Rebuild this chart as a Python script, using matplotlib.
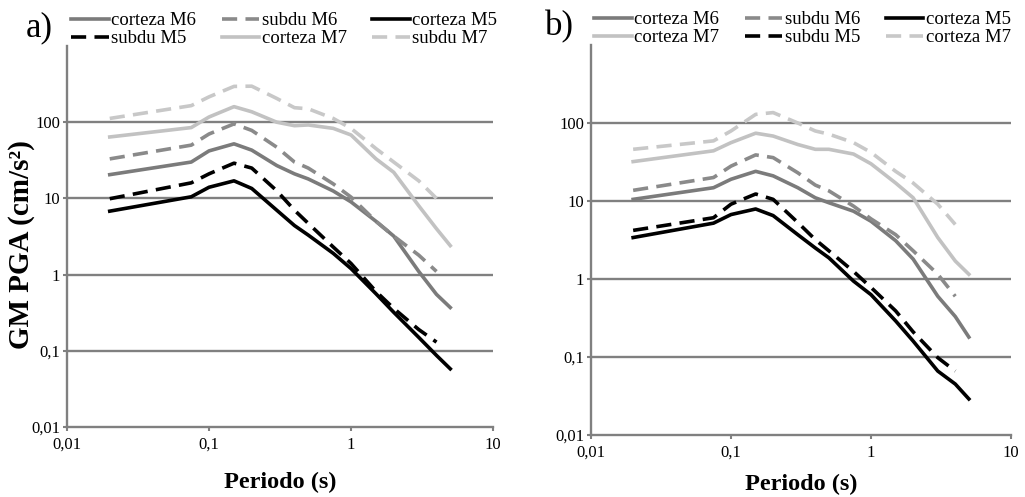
import matplotlib
matplotlib.use('Agg')
import matplotlib.pyplot as plt
import numpy as np
from matplotlib.ticker import FixedLocator, NullLocator

# Periodos (s)
per_cort = [0.02, 0.075, 0.1, 0.15, 0.2, 0.3, 0.4, 0.5, 0.75, 1.0, 1.5, 2.0, 3.0, 4.0, 5.0]
per_subdu = [0.02, 0.075, 0.1, 0.15, 0.2, 0.3, 0.4, 0.5, 0.75, 1.0, 1.5, 2.0, 3.0, 4.0]

# Panel a)
a_cort_m6 = [20.5, 30, 42, 52, 43, 27, 21, 18, 12.5, 9, 5, 3.2, 1.1, 0.55, 0.37]
a_subdu_m6 = [33, 50, 70, 95, 78, 47, 30, 25, 15.5, 10.4, 5, 3.2, 1.8, 1.1]
a_cort_m5 = [6.8, 10.5, 14, 17, 13.5, 7, 4.4, 3.3, 1.9, 1.2, 0.56, 0.32, 0.15, 0.087, 0.058]
a_subdu_m5 = [9.9, 16, 21, 29, 25, 12.6, 7, 4.7, 2.3, 1.4, 0.6, 0.36, 0.19, 0.13]
a_cort_m7 = [64, 85, 117, 160, 137, 100, 90, 92, 83, 68, 33, 22, 8, 4, 2.4]
a_subdu_m7 = [112, 165, 215, 295, 297, 205, 155, 150, 112, 83, 45, 30, 17, 10]

# Panel b)
b_cort_m6 = [10.5, 14.8, 19, 24, 21, 14.8, 11, 9.5, 7.4, 5.5, 3.1, 1.8, 0.6, 0.33, 0.18]
b_subdu_m6 = [13.7, 20, 28, 39, 36, 23, 16, 13.5, 8.6, 5.9, 3.7, 2.3, 1.15, 0.6]
b_cort_m5 = [3.4, 5.2, 6.7, 7.9, 6.5, 3.7, 2.5, 1.87, 0.94, 0.63, 0.29, 0.16, 0.066, 0.045, 0.029]
b_subdu_m5 = [4.2, 6.1, 9.1, 12.3, 10.5, 5.3, 3.2, 2.3, 1.25, 0.78, 0.39, 0.21, 0.098, 0.066]
b_cort_m7 = [32, 44, 56, 74, 68, 53, 46, 46, 40, 30, 17, 11, 3.4, 1.7, 1.15]
b_subdu_m7 = [46, 59, 79, 129, 136, 100, 79, 72, 56, 42, 24, 17, 9.1, 5.0]

ticks = [0.01, 0.1, 1, 10, 100]
xticks = [0.01, 0.1, 1, 10]
tick_labels = {0.01: '0,01', 0.1: '0,1', 1: '1', 10: '10', 100: '100'}

plt.rcParams['font.family'] = ['Liberation Serif', 'DejaVu Serif']

grid_c = '#808080'
mid = '#7b7b7b'
mid_d = '#8a8a8a'
light = '#c2c2c2'
light_d = '#c8c8c8'
lw = 2.6
dash = (0, (4.2, 2.3))

fig = plt.figure(figsize=(10.25, 4.97), dpi=100)
ax_a = fig.add_axes([67 / 1025, 1 - 427 / 497, 426 / 1025, 381 / 497])
ax_b = fig.add_axes([591 / 1025, 1 - 435 / 497, 420 / 1025, 390 / 497])


def style_axes(ax):
    ax.set_xscale('log')
    ax.set_yscale('log')
    ax.set_xlim(0.01, 10)
    ax.set_ylim(0.01, 1000)
    ax.xaxis.set_major_locator(FixedLocator(xticks))
    ax.yaxis.set_major_locator(FixedLocator(ticks))
    ax.xaxis.set_minor_locator(NullLocator())
    ax.yaxis.set_minor_locator(NullLocator())
    ax.set_xticklabels([tick_labels[t] for t in xticks], fontsize=12)
    ax.set_yticklabels([tick_labels[t] for t in ticks], fontsize=12)
    for t in ticks[1:]:
        ax.axhline(t, color=grid_c, lw=1.7, zorder=1)
    for s in ['top', 'right']:
        ax.spines[s].set_visible(False)
    for s in ['left', 'bottom']:
        ax.spines[s].set_color(grid_c)
        ax.spines[s].set_linewidth(1.7)
    ax.tick_params(direction='out', length=3, width=1.5, color=grid_c, pad=2)
    ax.tick_params(axis='x', pad=4)
    ax.set_xlabel('Periodo (s)', fontsize=17.5, fontweight='bold')
    ax.xaxis.label.set_va('center')
    ax.patch.set_alpha(0)


def draw(ax, c6, s6, c5, s5, c7, s7, lab_s7):
    h = {}
    h['cM6'], = ax.plot(per_cort, c6, color=mid, lw=lw, label='corteza M6', zorder=3)
    h['sM6'], = ax.plot(per_subdu, s6, color=mid_d, lw=lw, ls=dash, label='subdu M6', zorder=3)
    h['cM5'], = ax.plot(per_cort, c5, color='black', lw=lw, label='corteza M5', zorder=4)
    h['sM5'], = ax.plot(per_subdu, s5, color='black', lw=lw, ls=dash, label='subdu M5', zorder=4)
    h['cM7'], = ax.plot(per_cort, c7, color=light, lw=lw, label='corteza M7', zorder=2)
    h['sM7'], = ax.plot(per_subdu, s7, color=light_d, lw=lw, ls=dash, label=lab_s7, zorder=2)
    return h


style_axes(ax_a)
style_axes(ax_b)
# x label centred under each axis
ax_a.xaxis.set_label_coords((67 + 213) / 1025, 1 - 482 / 497, transform=fig.transFigure)
ax_b.xaxis.set_label_coords((591 + 210) / 1025, 1 - 484 / 497, transform=fig.transFigure)

ha = draw(ax_a, a_cort_m6, a_subdu_m6, a_cort_m5, a_subdu_m5, a_cort_m7, a_subdu_m7, 'subdu M7')
hb = draw(ax_b, b_cort_m6, b_subdu_m6, b_cort_m5, b_subdu_m5, b_cort_m7, b_subdu_m7, 'corteza M7')

leg_kw = dict(ncol=3, frameon=False, fontsize=13.5, handlelength=2.0, handletextpad=0.15,
              columnspacing=1.35, labelspacing=0.05, borderpad=0, borderaxespad=0, loc='upper left')
order_a = ['cM6', 'sM5', 'sM6', 'cM7', 'cM5', 'sM7']
fig.legend([ha[k] for k in order_a], [ha[k].get_label() for k in order_a],
           bbox_to_anchor=(71 / 1025, 1 - 12 / 497), **leg_kw)
order_b = ['cM6', 'cM7', 'sM6', 'sM5', 'cM5', 'sM7']
fig.legend([hb[k] for k in order_b], [hb[k].get_label() for k in order_b],
           bbox_to_anchor=(594 / 1025, 1 - 11 / 497), **leg_kw)

fig.text(26 / 1025, 1 - 28 / 497, 'a)', fontsize=25, va='center', ha='left')
fig.text(545 / 1025, 1 - 27 / 497, 'b)', fontsize=25, va='center', ha='left')
fig.text(22 / 1025, 1 - 245 / 497, 'GM PGA (cm/s²)', fontsize=21, fontweight='bold',
         rotation=90, va='center', ha='center')

fig.savefig('out.png', dpi=100)
